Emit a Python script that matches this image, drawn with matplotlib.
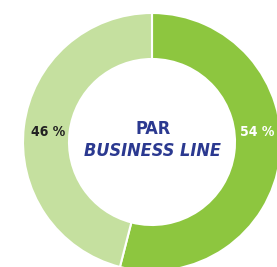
import matplotlib
matplotlib.use("Agg")
import matplotlib.pyplot as plt

# share by business line
labels = ["54 %", "46 %"]
values = [54, 46]
colors = ["#8dc63f", "#c5e09f"]
label_colors = ["white", "#222222"]
title_lines = ["PAR", "BUSINESS LINE"]

fig = plt.figure(figsize=(2.77, 2.67), dpi=100)
ax = fig.add_axes([0, 0, 1, 1])

cx, cy = 152, 125
r_out, r_in = 129, 83

ax.pie(values, colors=colors, startangle=90, counterclock=False,
       center=(cx, cy), radius=r_out, frame=True,
       wedgeprops=dict(width=r_out - r_in, edgecolor="white", linewidth=1.5))
ax.set_xlim(0, 277)
ax.set_ylim(0, 267)
ax.axis("off")

fam = ["DejaVu Sans"]

# percentage labels inside the ring
ax.text(257, 135, labels[0], color=label_colors[0], fontsize=10, fontweight="bold",
        fontstretch="condensed", ha="center", va="center", family=fam)
ax.text(48, 135, labels[1], color=label_colors[1], fontsize=10, fontweight="bold",
        fontstretch="condensed", ha="center", va="center", family=fam)

# centre title
ax.text(153, 138, title_lines[0], color="#2b3990", fontsize=13, fontweight="bold",
        fontstretch="condensed", ha="center", va="center", family=fam)
ax.text(153, 116, title_lines[1], color="#2b3990", fontsize=13, fontweight="bold",
        fontstretch="condensed", style="italic", ha="center", va="center", family=fam)

fig.savefig("out.png", dpi=100)
